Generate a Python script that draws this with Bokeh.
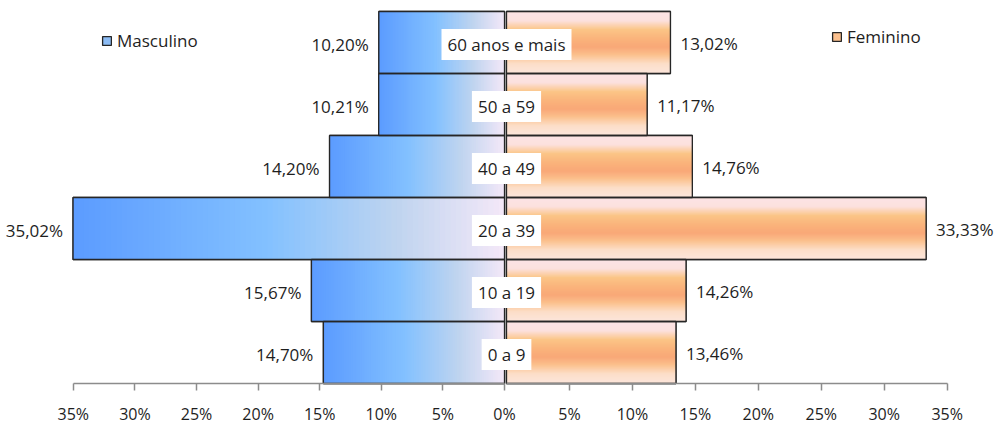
import numpy as np
from bokeh.plotting import figure
from bokeh.models import (Range1d, LinearAxis, FixedTicker, ColumnDataSource,
                          Legend, LegendItem)
from bokeh.core.properties import value
from bokeh.embed import file_html
from bokeh.resources import INLINE

# Population share by age group (%)
age_groups = ["0 a 9", "10 a 19", "20 a 39", "40 a 49", "50 a 59", "60 anos e mais"]
masculino = [14.70, 15.67, 35.02, 14.20, 10.21, 10.20]
feminino = [13.46, 14.26, 33.33, 14.76, 11.17, 13.02]
tick_values = [0, 5, 10, 15, 20, 25, 30, 35]

FONT = "Open Sans"
TEXT_COLOR = "#1e1e1e"
OUTLINE = "#262626"

# Each half has its own horizontal scale (pixels per percentage point)
W, H = 1000, 425
FEM_ZERO, FEM_SCALE = 506, 12.59
MALE_ZERO, MALE_SCALE = 504, 12.32

male_stops = [(0.0, "#5b9bff"), (0.45, "#83c1ff"), (0.75, "#bfd4ef"), (1.0, "#f4e8f8")]
female_stops = [(0.0, "#fde7ea"), (0.15, "#fde3e4"), (0.3, "#fbc585"), (0.45, "#fab27a"),
                (0.58, "#f9a676"), (0.7, "#fbc08c"), (0.85, "#fde0cc"), (1.0, "#fde8e0")]


def blend(stops, t):
    for (t0, c0), (t1, c1) in zip(stops[:-1], stops[1:]):
        if t <= t1:
            f = (t - t0) / (t1 - t0) if t1 > t0 else 0.0
            a = np.array([int(c0[i:i + 2], 16) for i in (1, 3, 5)])
            b = np.array([int(c1[i:i + 2], 16) for i in (1, 3, 5)])
            r, g, bl = np.round(a + (b - a) * f).astype(int)
            return f"#{r:02x}{g:02x}{bl:02x}"
    return stops[-1][1]


def pct(v):
    return f"{v:.2f}".replace(".", ",") + "%"


idx = list(range(len(age_groups)))
bar_h = 1.0

p = figure(width=W, height=H,
           x_range=Range1d(-FEM_ZERO / FEM_SCALE, (W - FEM_ZERO) / FEM_SCALE),
           y_range=Range1d(-0.5 - 42 / 62, 5.5 + 11 / 62),
           output_backend="svg", toolbar_location=None,
           x_axis_location=None, y_axis_location=None,
           min_border=0, outline_line_color=None)
p.extra_x_ranges = {"male": Range1d(MALE_ZERO / MALE_SCALE, -(W - MALE_ZERO) / MALE_SCALE)}
p.xgrid.visible = False
p.ygrid.visible = False
p.background_fill_color = "white"
p.border_fill_color = "white"

# Solid base bars (also used as legend keys)
male_base = p.hbar(y=idx, left=0, right=masculino, height=bar_h, fill_color="#8cbcf5",
                   line_color=OUTLINE, line_width=1.3, x_range_name="male")
female_base = p.hbar(y=idx, left=0, right=feminino, height=bar_h, fill_color="#fbc08e",
                     line_color=OUTLINE, line_width=1.3)

# Male bars: horizontal colour ramp from the outer end towards the centre
NM = 80
m_y, m_l, m_r, m_c = [], [], [], []
for i, v in zip(idx, masculino):
    for k in range(NM):
        a, b = k / NM, (k + 1) / NM
        m_y.append(i)
        m_l.append(max(v * (1 - b) - 0.08, 0))
        m_r.append(v * (1 - a))
        m_c.append(blend(male_stops, (a + b) / 2))
p.hbar(y="y", left="l", right="r", height=bar_h, color="c", line_color=None,
       x_range_name="male",
       source=ColumnDataSource(dict(y=m_y, l=m_l, r=m_r, c=m_c)))

# Female bars: vertical colour ramp across each bar
NF = 62
f_y, f_h, f_r, f_c = [], [], [], []
for i, v in zip(idx, feminino):
    for k in range(NF):
        t = (k + 0.5) / NF
        f_y.append(i + bar_h / 2 - t * bar_h)
        f_h.append(bar_h / NF * (1.0 if k in (0, NF - 1) else 1.6))
        f_r.append(v)
        f_c.append(blend(female_stops, t))
p.hbar(y="y", left=0, right="r", height="h", color="c", line_color=None,
       source=ColumnDataSource(dict(y=f_y, h=f_h, r=f_r, c=f_c)))

# Bar outlines
p.hbar(y=idx, left=0, right=masculino, height=bar_h, fill_color=None,
       line_color=OUTLINE, line_width=1.3, x_range_name="male")
p.hbar(y=idx, left=0, right=feminino, height=bar_h, fill_color=None,
       line_color=OUTLINE, line_width=1.3)


# Axes sharing the same baseline
def style_axis(ax, ticks):
    ax.ticker = FixedTicker(ticks=ticks)
    ax.bounds = (0, 35)
    ax.fixed_location = -0.5
    ax.major_label_overrides = {t: f"{t}%" for t in ticks}
    ax.axis_line_color = "#8c8c8c"
    ax.axis_line_width = 1.5
    ax.major_tick_line_color = "#8c8c8c"
    ax.major_tick_line_width = 1.5
    ax.major_tick_out = 7
    ax.major_tick_in = 0
    ax.minor_tick_line_color = None
    ax.major_label_text_font = FONT
    ax.major_label_text_font_size = "16px"
    ax.major_label_text_color = TEXT_COLOR
    ax.major_label_standoff = 12


male_axis = LinearAxis(x_range_name="male")
style_axis(male_axis, tick_values)
female_axis = LinearAxis()
style_axis(female_axis, tick_values[1:])
p.add_layout(male_axis, "below")
p.add_layout(female_axis, "below")

# Age group names in white boxes at the centre
p.text(x=[0] * len(idx), y=idx, text=age_groups, text_align="center",
       text_baseline="middle", text_font=value(FONT), text_font_size="17px",
       text_color=TEXT_COLOR, background_fill_color="white", padding=(6, 4),
       y_offset=2)

# Value labels
p.text(x=masculino, y=idx, text=[pct(v) for v in masculino], x_range_name="male",
       text_align="right", text_baseline="middle", x_offset=-10, y_offset=2,
       text_font=value(FONT), text_font_size="17px", text_color=TEXT_COLOR)
p.text(x=feminino, y=idx, text=[pct(v) for v in feminino],
       text_align="left", text_baseline="middle", x_offset=10, y_offset=1,
       text_font=value(FONT), text_font_size="17px", text_color=TEXT_COLOR)


def make_legend(label, renderer, loc):
    lg = Legend(items=[LegendItem(label=label, renderers=[renderer])], location=loc,
                border_line_color=None, background_fill_alpha=0, padding=0, margin=0,
                spacing=0, glyph_width=11, glyph_height=11, label_standoff=5,
                label_height=20, label_text_font=FONT, label_text_font_size="17px",
                label_text_color=TEXT_COLOR)
    p.add_layout(lg)


make_legend("Masculino", male_base, (101, 373))
make_legend("Feminino", female_base, (831, 377))

open("out.html", "w").write(file_html(p, INLINE))
